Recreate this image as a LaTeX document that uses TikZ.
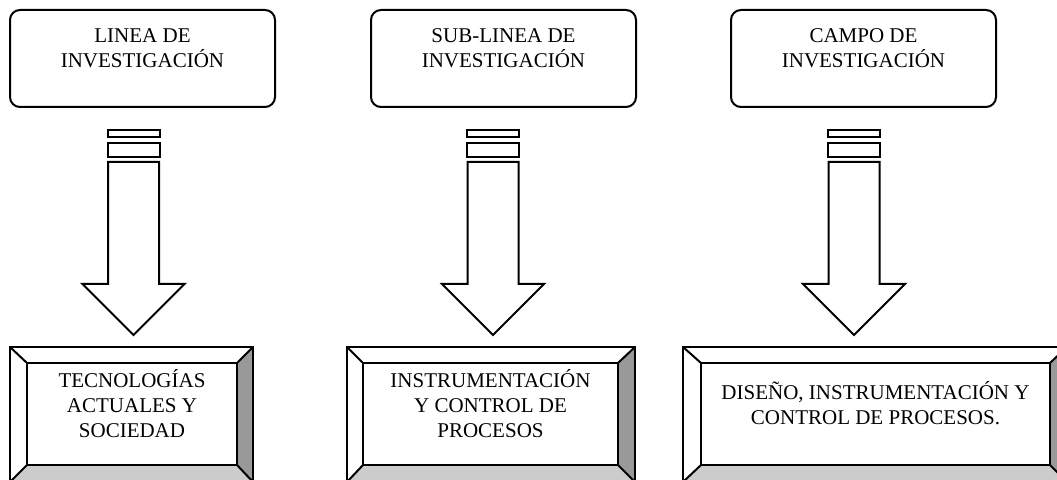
\documentclass[tikz,border=0pt]{standalone}
\usepackage{fontspec}
\setmainfont{Liberation Serif}

\tikzset{
  topbox/.style={draw, rounded corners=5pt, outer sep=0pt},
  innerbox/.style={draw, fill=white, outer sep=0pt},
  boxtext/.style={align=center, inner sep=0pt, font=\fontsize{10.5}{12.5}\selectfont},
  rightface/.style={fill=gray!80},
  bottomface/.style={fill=gray!40}
}

\begin{document}
\begin{tikzpicture}[x=0.5pt, y=-0.5pt, line width=1pt]
    % Page
    \useasboundingbox (0,0) rectangle (1057,480);
    \clip (0,0) rectangle (1057,480);

    \foreach \i/\topL/\topR/\arx/\outL/\outR/\inL/\inR/\botY/\topTxt/\botTxt in {
        1/10/275/133.5/10/253/27/237/438/{LINEA DE\\INVESTIGACIÓN}/{TECNOLOGÍAS\\ACTUALES Y\\SOCIEDAD},
        2/371/636/493/347/635/363/618/438/{SUB-LINEA DE\\INVESTIGACIÓN}/{INSTRUMENTACIÓN\\Y CONTROL DE\\PROCESOS},
        3/731/996/854/683/1067/701/1050/425/{CAMPO DE\\INVESTIGACIÓN}/{DISEÑO, INSTRUMENTACIÓN Y\\CONTROL DE PROCESOS.}} {

        % Top box
        \node[topbox, minimum width={(\topR-\topL)*0.5pt}, minimum height=48.5pt]
            (top\i) at ({(\topL+\topR)/2},58.5) {};
        \node[boxtext, anchor=base] (toptxt\i) at ({(\topL+\topR)/2},68) {\topTxt};

        % Arrow
        \coordinate (arr\i) at (\arx,130);
        \draw (\arx-26,130) rectangle (\arx+26,137);
        \draw (\arx-26,143) rectangle (\arx+26,157);
        \draw (\arx-25.5,162) -- (\arx+25.5,162) -- (\arx+25.5,284) -- (\arx+51,284)
            -- (\arx,335) -- (\arx-51,284) -- (\arx-25.5,284) -- cycle;

        % Bevel box
        \fill[rightface] (\outR,347) -- (\outR,482) -- (\inR,465) -- (\inR,363) -- cycle;
        \fill[bottomface] (\outL,482) -- (\outR,482) -- (\inR,465) -- (\inL,465) -- cycle;
        \draw (\outL,347) rectangle (\outR,482);
        \node[innerbox, minimum width={(\inR-\inL)*0.5pt}, minimum height=51pt]
            (in\i) at ({(\inL+\inR)/2},414) {};
        \draw (\outL,347) -- (in\i.north west);
        \draw (\outR,347) -- (in\i.north east);
        \draw (\outL,482) -- (in\i.south west);
        \draw (\outR,482) -- (in\i.south east);
        \node[boxtext, anchor=base] (bottxt\i) at ({(\inL+\inR)/2},\botY) {\botTxt};
    }
\end{tikzpicture}
\end{document}
